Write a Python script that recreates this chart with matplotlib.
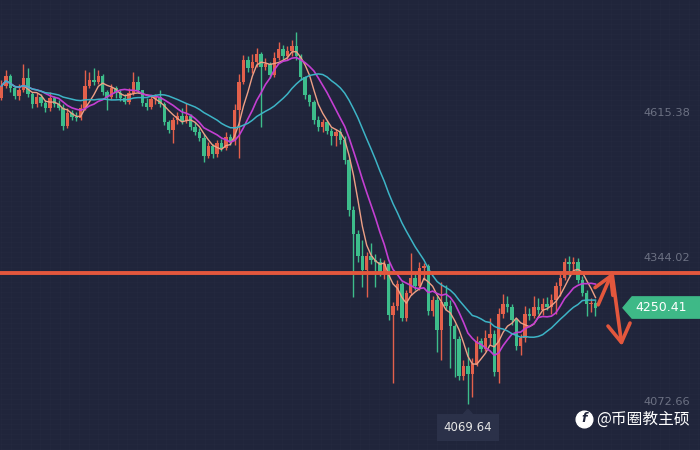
import numpy as np
import pandas as pd
import matplotlib.pyplot as plt

# candle data (open of each candle = previous close)
first_open = 4644
closes = [4667, 4686, 4663, 4648, 4660, 4682, 4652, 4633, 4646, 4635,
          4626, 4644, 4633, 4626, 4592, 4616, 4609, 4607, 4626, 4667,
          4678, 4675, 4686, 4656, 4646, 4663, 4654, 4644, 4637, 4654,
          4675, 4660, 4635, 4628, 4643, 4646, 4633, 4599, 4584, 4603,
          4611, 4601, 4611, 4590, 4581, 4569, 4536, 4554, 4539, 4560,
          4551, 4571, 4564, 4622, 4675, 4716, 4701, 4712, 4727, 4703,
          4708, 4688, 4720, 4737, 4723, 4733, 4742, 4723, 4684, 4650,
          4637, 4603, 4590, 4599, 4583, 4573, 4581, 4566, 4528, 4434,
          4389, 4348, 4321, 4348, 4340, 4336, 4316, 4333, 4237, 4254,
          4295, 4231, 4278, 4306, 4291, 4325, 4329, 4244, 4265, 4209,
          4261, 4254, 4216, 4192, 4122, 4141, 4126, 4145, 4188, 4173,
          4194, 4201, 4130, 4239, 4258, 4252, 4228, 4179, 4194, 4239,
          4235, 4252, 4246, 4258, 4252, 4265, 4291, 4306, 4336, 4333,
          4336, 4303, 4278, 4258, 4259, 4250.41]
highs = [4678, 4697, 4690, 4667, 4671, 4708, 4701, 4656, 4654, 4652,
         4641, 4656, 4648, 4641, 4633, 4626, 4622, 4618, 4633, 4697,
         4693, 4701, 4697, 4690, 4660, 4671, 4667, 4660, 4652, 4663,
         4693, 4686, 4660, 4644, 4648, 4652, 4660, 4637, 4603, 4609,
         4618, 4626, 4635, 4614, 4599, 4588, 4577, 4562, 4558, 4566,
         4568, 4581, 4577, 4633, 4690, 4725, 4723, 4727, 4738, 4731,
         4720, 4712, 4731, 4750, 4744, 4742, 4753, 4768, 4727, 4686,
         4652, 4641, 4611, 4605, 4603, 4588, 4586, 4588, 4573, 4532,
         4442, 4397, 4378, 4355, 4372, 4352, 4344, 4340, 4336, 4261,
         4303, 4299, 4284, 4353, 4318, 4336, 4335, 4333, 4273, 4273,
         4299, 4293, 4265, 4220, 4197, 4152, 4177, 4156, 4197, 4194,
         4209, 4231, 4209, 4250, 4276, 4273, 4258, 4231, 4201, 4254,
         4250, 4273, 4269, 4269, 4271, 4276, 4299, 4318, 4344, 4348,
         4346, 4344, 4310, 4284, 4269, 4265]
lows = [4641, 4663, 4656, 4643, 4641, 4656, 4646, 4626, 4628, 4629,
        4618, 4620, 4628, 4622, 4584, 4588, 4603, 4601, 4603, 4622,
        4663, 4669, 4671, 4650, 4622, 4643, 4644, 4639, 4633, 4633,
        4650, 4654, 4629, 4622, 4624, 4633, 4628, 4594, 4579, 4560,
        4596, 4596, 4598, 4584, 4575, 4564, 4524, 4532, 4532, 4534,
        4545, 4547, 4556, 4556, 4532, 4671, 4693, 4691, 4703, 4590,
        4697, 4682, 4684, 4716, 4716, 4716, 4723, 4716, 4678, 4643,
        4629, 4596, 4583, 4581, 4577, 4556, 4554, 4558, 4521, 4423,
        4271, 4336, 4290, 4271, 4333, 4290, 4310, 4305, 4228, 4109,
        4246, 4226, 4226, 4275, 4284, 4284, 4303, 4237, 4235, 4167,
        4152, 4246, 4137, 4120, 4115, 4115, 4069.64, 4083, 4141, 4167,
        4169, 4181, 4122, 4109, 4231, 4243, 4218, 4171, 4162, 4186,
        4228, 4231, 4239, 4237, 4246, 4239, 4239, 4273, 4303, 4310,
        4318, 4297, 4273, 4235, 4243, 4235]

level_values = [4615.38, 4344.02, 4072.66]
level_labels = ["4615.38", "4344.02", "4072.66"]
resistance = 4316
last_price = 4250.41
low_price = 4069.64
low_index = 106
watermark = "@币圈教主硕"

bg = "#20253b"
up_col = "#e3604b"
down_col = "#3dbd8b"
line_red = "#e3573d"

closes = np.array(closes, dtype=float)
highs = np.array(highs, dtype=float)
lows = np.array(lows, dtype=float)
opens = np.concatenate([[first_open], closes[:-1]])
x = np.arange(len(closes))
colors = np.where(closes >= opens, up_col, down_col)

fig = plt.figure(figsize=(7, 4.5), dpi=100, facecolor=bg)
ax = fig.add_axes([0, 0, 1, 1])
ax.set_facecolor(bg)

# faint background grid
for gx in np.arange(0, 160, 2.2):
    ax.axvline(gx, color="#ffffff", lw=0.4, alpha=0.02, zorder=0)
for gy in np.arange(3985, 4830, 9.5):
    ax.axhline(gy, color="#ffffff", lw=0.4, alpha=0.02, zorder=0)

# candles
ax.vlines(x, lows, highs, colors=colors, lw=1.0, zorder=2)
body = np.abs(closes - opens)
body = np.maximum(body, 1.5)
ax.bar(x, body, bottom=np.minimum(opens, closes), width=0.76,
       color=colors, zorder=3)

# moving averages
s = pd.Series(closes)
ax.plot(x, s.rolling(5, min_periods=1).mean(), color="#eea086", lw=1.0, zorder=4)
ax.plot(x, s.rolling(10, min_periods=1).mean(), color="#c43fd2", lw=1.2, zorder=4)
ax.plot(x, s.rolling(20, min_periods=1).mean(), color="#3db4c6", lw=1.1, zorder=4)

# resistance line
ax.axhline(resistance, color=line_red, lw=2.8, zorder=5)

# hand drawn arrows
tip = (138.75, resistance)
ax.annotate("", xy=tip, xytext=(135.6, 4256),
            arrowprops=dict(arrowstyle="->,head_length=0.6,head_width=0.35",
                            color=line_red, lw=2.6, mutation_scale=20,
                            shrinkA=0, shrinkB=0), zorder=6)
ax.annotate("", xy=(141, 4179), xytext=tip,
            arrowprops=dict(arrowstyle="->,head_length=0.65,head_width=0.4",
                            color=line_red, lw=2.6, mutation_scale=20,
                            shrinkA=0, shrinkB=0), zorder=6)

# price levels on the right
ytr = ax.get_yaxis_transform()
for v, lab in zip(level_values, level_labels):
    ax.text(0.986, v, lab, transform=ytr, ha="right", va="center",
            color="#6c7183", fontsize=8.2)

# last price tag
tag = plt.Polygon([(0.89, last_price), (0.903, 4271), (1.0, 4271),
                   (1.0, 4231), (0.903, 4231)], closed=True,
                  transform=ytr, color="#3eb987", zorder=7)
ax.add_patch(tag)
ax.text(0.945, last_price, f"{last_price:.2f}", transform=ytr, ha="center",
        va="center", color="white", fontsize=9, zorder=8)

# low marker
ax.annotate(f"{low_price:.2f}", xy=(low_index, 4026), ha="center", va="center",
            color="#e6e6e6", fontsize=8.5, zorder=8,
            bbox=dict(boxstyle="square,pad=0.6", fc="#2b3149", ec="none"))
ax.add_patch(plt.Polygon([(low_index - 1.0, 4051), (low_index, 4060),
                          (low_index + 1.0, 4051)], closed=True,
                         color="#2b3149", zorder=7))

# watermark
ax.plot([584 / 700], [1 - 419 / 450], "o", ms=12, color="white",
        transform=ax.transAxes, zorder=9)
ax.text(584 / 700, 1 - 419 / 450, "f", transform=ax.transAxes, ha="center",
        va="center", color=bg, fontsize=9, fontweight="bold", style="italic",
        zorder=10)
ax.text(0.986, 1 - 419 / 450, watermark, transform=ax.transAxes, ha="right",
        va="center", color="white", fontsize=11.3,
        family=["Noto Sans CJK SC", "DejaVu Sans"], zorder=9)

ax.set_xlim(-0.34, 158.75)
ax.set_ylim(3983.4, 4828.5)
ax.axis("off")

fig.savefig("out.png", dpi=100, facecolor=bg)
